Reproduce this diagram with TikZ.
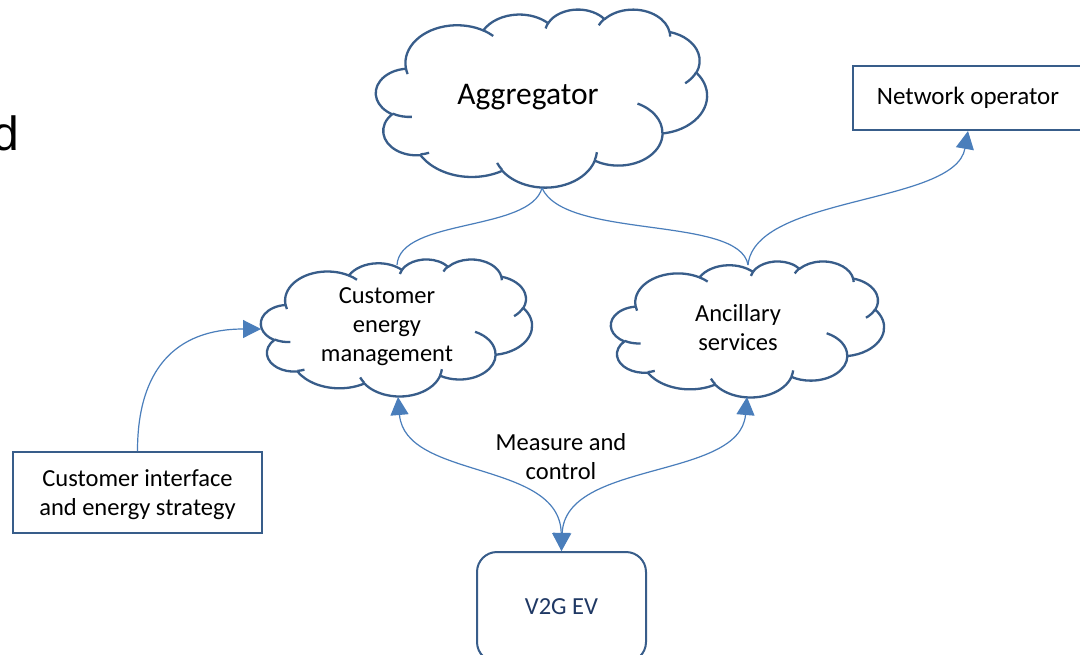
\documentclass[tikz,border=0pt]{standalone}
\usepackage{fontspec}
\setmainfont{Carlito}
\newfontfamily\arialfont{Liberation Sans}
\usetikzlibrary{arrows.meta}
\definecolor{cloudc}{HTML}{385D8A}
\definecolor{linec}{HTML}{4A7EBB}
\definecolor{navytxt}{HTML}{1F3864}
% OOXML arcTo (visual angles) -> TikZ parametric arc
\newcommand{\oarc}[4]{arc[start angle={atan2((#1)*sin(#3),(#2)*cos(#3))}, delta angle={mod(atan2((#1)*sin((#3)+(#4)),(#2)*cos((#3)+(#4)))-atan2((#1)*sin(#3),(#2)*cos(#3))+720,360)}, x radius=#1, y radius=#2]}
\newcommand{\oocloud}[4]{%
\begin{scope}[shift={(#1,#2)}, xscale=#3/432, yscale=#4/432]
\filldraw[cloudline] (39,143.7)
  \oarc{67.53}{91.90}{-190.4875}{123.7805}
  \oarc{53.33}{72.67}{-144.1024}{89.9452}
  \oarc{43.65}{59.45}{-145.8079}{99.7230}
  \oarc{48.57}{65.95}{-130.9861}{117.2417}
  \oarc{53.33}{72.73}{-78.7089}{109.0269}
  \oarc{67.75}{92.20}{-46.2673}{130.2690}
  \oarc{57.85}{78.67}{0.6250}{114.0333}
  \oarc{67.52}{92.15}{22.4516}{115.1726}
  \oarc{77.20}{105.43}{66.2426}{75.7110}
  \oarc{43.60}{59.18}{-274.9421}{146.7356}
  \oarc{43.45}{59.45}{-246.8285}{152.5189} -- cycle;
\draw[cloudline]
  (46.93,261.77) \oarc{43.45}{59.45}{86.7420}{26.4295}
  (69.28,348.99) \oarc{43.60}{59.18}{73.6105}{11.4475}
  (164.78,390.90) \oarc{67.52}{92.15}{137.6242}{14.0811}
  (288.27,347.51) \oarc{67.52}{92.15}{6.4533}{15.9984}
  (341.29,229.54) \oarc{57.85}{78.67}{-70.2924}{70.9174}
  (417.98,153.54) \oarc{53.33}{72.73}{30.3180}{27.7515}
  (383.24,54.26) \oarc{48.57}{65.95}{-13.7443}{14.8589}
  (290.78,39.52) \oarc{48.57}{65.95}{-149.1815}{18.1954}
  (221.41,47.20) \oarc{43.65}{59.45}{-163.4943}{17.6864}
  (140.00,51.92) \oarc{67.53}{91.90}{-66.7070}{12.3194}
  (41.27,157.89) arc[start angle=163.2, delta angle=9.05, x radius=67.53, y radius=91.90];
\end{scope}}
\begin{document}
\begin{tikzpicture}[x=1pt,y=-1pt,
  cloudline/.style={draw=cloudc, line width=2.3pt, fill=white, line join=round},
  boxstyle/.style={draw=cloudc, line width=2pt, fill=white, inner sep=0pt, align=center},
  conn/.style={draw=linec, line width=1.2pt},
  tip/.style={-{Triangle[length=18pt,width=18pt]}},
  bothtips/.style={{Triangle[length=18pt,width=18pt]}-{Triangle[length=18pt,width=18pt]}},
  lbl/.style={font=\fontsize{24.5}{29}\selectfont, align=center, inner sep=0pt}]
\useasboundingbox (0,0) rectangle (1080,654);
\clip (0,0) rectangle (1080,654);
\fill[white] (0,0) rectangle (1080,654);

\node[font=\arialfont\fontsize{48}{48}\selectfont, anchor=base west, inner sep=0pt] (dtext) at (-8,150) {d};

% clouds
\oocloud{376}{9}{331}{178}
\oocloud{261}{259}{271}{137}
\oocloud{611}{261}{273}{136}

\node[font=\fontsize{31.5}{36}\selectfont, inner sep=0pt] (agg) at (528,97) {Aggregator};
\node[lbl] (cem) at (387,327) {Customer\\energy\\management};
\node[lbl] (anc) at (738,328) {Ancillary\\services};

% boxes
\node[boxstyle, minimum width=230pt, minimum height=64pt] (netop) at (968,98) {};
\node[lbl, font=\fontsize{25}{29}\selectfont] (netoptxt) at (968,98) {Network operator};
\node[boxstyle, minimum width=249pt, minimum height=81pt] (ci) at (137.5,492.5) {};
\node[lbl] (citxt) at (137.5,495) {Customer interface\\and energy strategy};
\node[boxstyle, rounded corners=20pt, minimum width=169pt, minimum height=110pt] (v2g) at (561.5,607) {};
\node[lbl, text=navytxt, font=\fontsize{24.5}{29}\selectfont] (v2gtxt) at (561.5,607) {V2G EV};
\node[lbl] (mc) at (561,457) {Measure and\\control};

% anchor points on clouds
\coordinate (aggS) at (542,188);
\coordinate (cemN) at (397,265);
\coordinate (ancN) at (748,265);
\coordinate (cemS) at (398,397);
\coordinate (ancS) at (747,397);
\coordinate (cemW) at (261,329);

% connectors
\draw[conn] (aggS) .. controls (530,232) and (400,218) .. (cemN);
\draw[conn] (aggS) .. controls (565,240) and (740,215) .. (ancN);
\draw[conn, tip] (ancN) .. controls (755,195) and (955,205) .. (netop.south);
\draw[conn, tip] (ci.north) .. controls (137.5,370) and (175,329) .. (cemW);
\draw[conn, bothtips] (v2g.north) .. controls (560,460) and (405,480) .. (cemS);
\draw[conn, bothtips] (v2g.north) .. controls (565,460) and (740,480) .. (ancS);
\end{tikzpicture}
\end{document}
